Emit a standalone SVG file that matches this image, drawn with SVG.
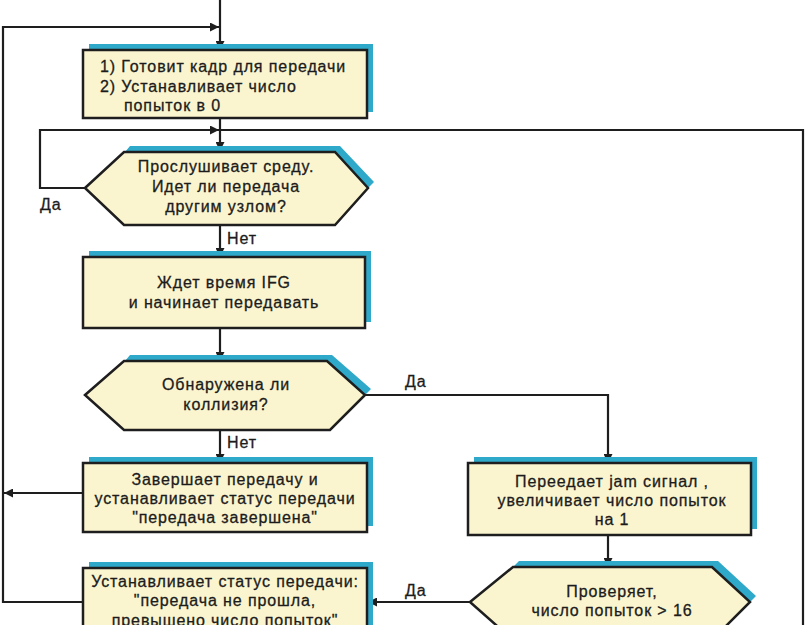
<svg xmlns="http://www.w3.org/2000/svg" width="807" height="625" viewBox="0 0 807 625">
<style>
.bg{fill:#ffffff}
.sh{fill:#2fa9c9}
.nd{fill:#fbf5cf;stroke:#1e1e1e;stroke-width:2.5}
.ln{fill:none;stroke:#1e1e1e;stroke-width:2.2}
text{font-family:"Liberation Sans",Arial,sans-serif;font-size:16px;letter-spacing:0.9px;fill:#1c1c1c;stroke:#1c1c1c;stroke-width:0.3;text-anchor:middle}
.lb{text-anchor:start}
</style>
<defs>
<marker id="ah" viewBox="0 0 10 10" refX="10" refY="5" markerWidth="9" markerHeight="9" markerUnits="userSpaceOnUse" orient="auto">
<path d="M0,0 L10,5 L0,10 z" fill="#1e1e1e"/>
</marker>
</defs>
<rect class="bg" x="0" y="0" width="807" height="625"/>

<g id="connectors">
<path class="ln" d="M220,0 V50" marker-end="url(#ah)"/>
<path class="ln" d="M83,602 H3 V27 H219" marker-end="url(#ah)"/>
<path class="ln" d="M220,119 V151" marker-end="url(#ah)"/>
<path class="ln" d="M85,188 H40 V130 H219" marker-end="url(#ah)"/>
<path class="ln" d="M803,625 V130 H220"/>
<path class="ln" d="M220,225 V257" marker-end="url(#ah)"/>
<path class="ln" d="M220,328 V361" marker-end="url(#ah)"/>
<path class="ln" d="M220,430 V463" marker-end="url(#ah)"/>
<path class="ln" d="M365,395 H608 V463" marker-end="url(#ah)"/>
<path class="ln" d="M83,493 H4" marker-end="url(#ah)"/>
<path class="ln" d="M608,535 V567" marker-end="url(#ah)"/>
<path class="ln" d="M470,602 H368" marker-end="url(#ah)"/>
<text class="lb" x="40" y="210">Да</text>
<text class="lb" x="227" y="244">Нет</text>
<text class="lb" x="405" y="387">Да</text>
<text class="lb" x="227" y="448">Нет</text>
<text class="lb" x="405" y="596">Да</text>
</g>

<g id="n1">
<rect class="sh" x="89" y="44" width="284" height="68"/>
<rect class="nd" x="83" y="50" width="284" height="68"/>
<text class="lb" x="100" y="72">1) Готовит кадр для передачи</text>
<text class="lb" x="100" y="92">2) Устанавливает число</text>
<text class="lb" x="124" y="111">попыток в 0</text>
</g>

<g id="n2">
<polygon class="sh" points="130,146 340,146 374,182 368,188 335,152 125,152"/>
<polygon class="nd" points="85,188 124,152 335,152 368,188 335,225 124,225"/>
<text x="226" y="172">Прослушивает среду.</text>
<text x="226" y="192">Идет ли передача</text>
<text x="226" y="212">другим узлом?</text>
</g>

<g id="n3">
<rect class="sh" x="89" y="251" width="282" height="71"/>
<rect class="nd" x="83" y="257" width="282" height="71"/>
<text x="224" y="288">Ждет время IFG</text>
<text x="224" y="308">и начинает передавать</text>
</g>

<g id="n4">
<polygon class="sh" points="130,355 332,355 371,389 365,395 327,361 125,361"/>
<polygon class="nd" points="85,395 124,361 327,361 365,395 330,430 124,430"/>
<text x="226" y="390">Обнаружена ли</text>
<text x="226" y="410">коллизия?</text>
</g>

<g id="n5">
<rect class="sh" x="89" y="457" width="284" height="69"/>
<rect class="nd" x="83" y="463" width="284" height="69"/>
<text x="225" y="485">Завершает передачу и</text>
<text x="225" y="504">устанавливает статус передачи</text>
<text x="225" y="523">"передача завершена"</text>
</g>

<g id="n6">
<rect class="sh" x="474" y="457" width="283" height="72"/>
<rect class="nd" x="468" y="463" width="283" height="72"/>
<text x="612" y="487">Переедает jam сигнал ,</text>
<text x="612" y="506">увеличивает число попыток</text>
<text x="612" y="525">на 1</text>
</g>

<g id="n7">
<polygon class="sh" points="519,561 718,561 756,596 750,602 712,567 513,567"/>
<polygon class="nd" points="470,602 513,567 712,567 750,602 712,640 513,640"/>
<text x="612" y="597">Проверяет,</text>
<text x="612" y="616">число попыток &gt; 16</text>
</g>

<g id="n8">
<rect class="sh" x="89" y="562" width="284" height="80"/>
<rect class="nd" x="83" y="568" width="284" height="80"/>
<text x="225" y="587">Устанавливает статус передачи:</text>
<text x="225" y="606">"передача не прошла,</text>
<text x="225" y="626">превышено число попыток"</text>
</g>
</svg>
